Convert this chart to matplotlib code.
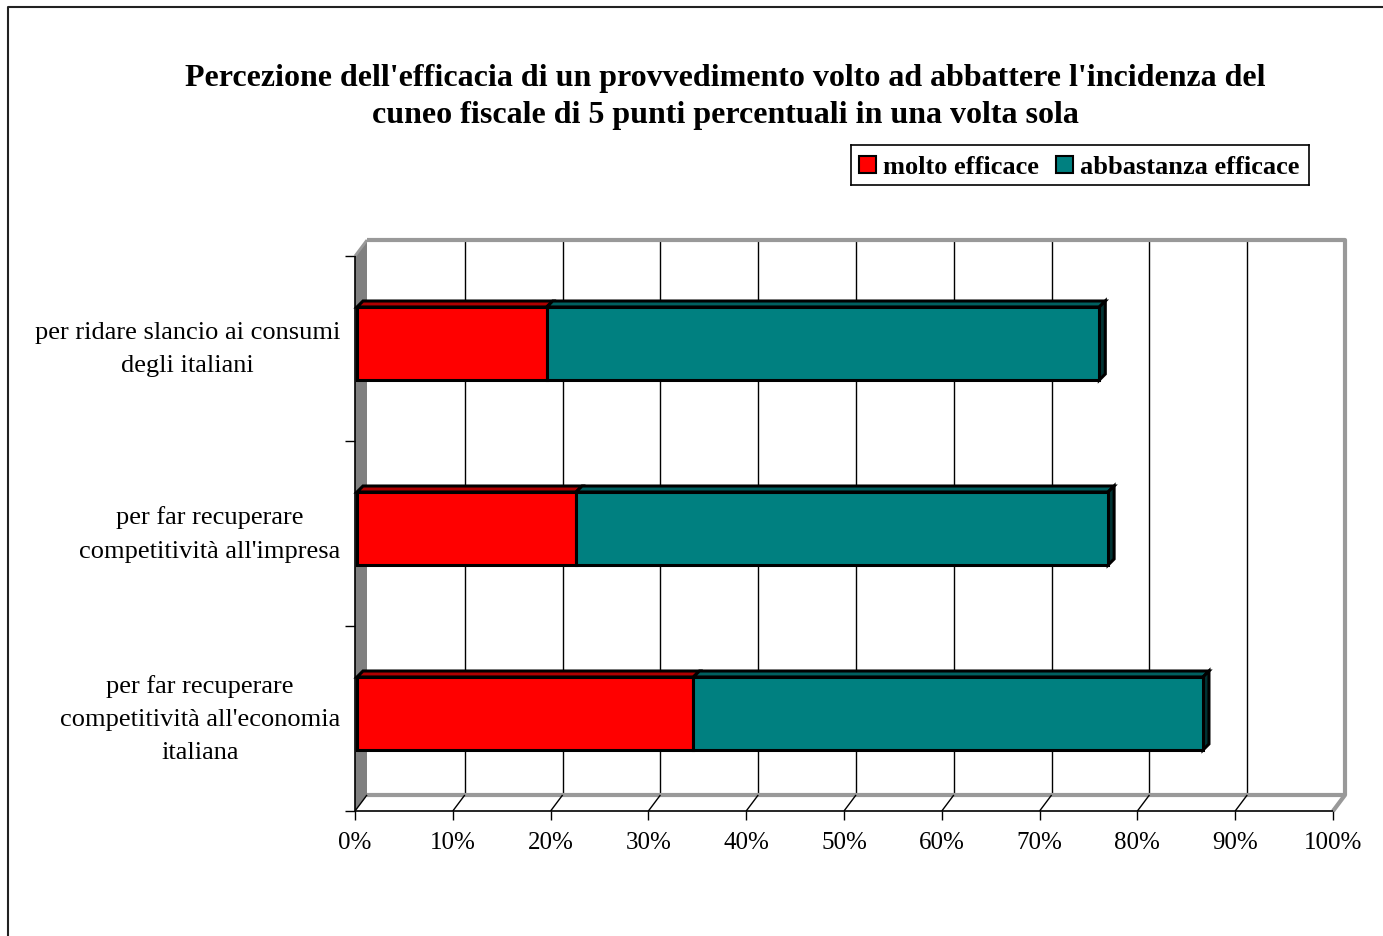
import matplotlib.pyplot as plt
from matplotlib.patches import Polygon

plt.rcParams['font.family'] = ['Liberation Serif', 'DejaVu Serif']

# dati (dall'alto verso il basso)
categorie = ["per ridare slancio ai consumi\ndegli italiani",
             "per far recuperare\ncompetitività all'impresa",
             "per far recuperare\ncompetitività all'economia\nitaliana"]
molto = [19.4, 22.4, 34.4]
abbastanza = [56.5, 54.4, 52.1]
serie = ['molto efficace', 'abbastanza efficace']
colori = ['#FF0000', '#008080']
colori_top = ['#B00000', '#006060']
colori_lato = ['#600000', '#003333']
xticks = list(range(0, 101, 10))

fig = plt.figure(figsize=(13.83, 9.37), dpi=100)
W, H = 1383, 937
# piano frontale: x 355..1333 px, y 812..257 px
ax = fig.add_axes([355 / W, (H - 812) / H, 978 / W, 555 / H])
ax.set_xlim(0, 100)
ax.set_ylim(0, 3)
ax.axis('off')

px = 100 / 978   # unità x per pixel
py = 3 / 555     # unità y per pixel
DX, DY = 12 * px, 16 * py   # profondità pareti


def poly(pts, fc, ec='none', lw=1.0, z=1):
    ax.add_patch(Polygon(pts, closed=True, facecolor=fc, edgecolor=ec,
                         linewidth=lw, zorder=z, clip_on=False, joinstyle='miter'))


def line(xs, ys, c='black', lw=1.0, z=2):
    ax.plot(xs, ys, color=c, linewidth=lw, zorder=z, clip_on=False,
            solid_capstyle='butt')


# parete laterale
poly([(0, 0), (0, 3), (DX, 3 + DY), (DX, DY)], '#808080', z=1)
# griglia sulla parete di fondo
for t in xticks[1:-1]:
    line([t + DX, t + DX], [DY, 3 + DY], 'black', 1.0, 1)
# bordi grigi della parete di fondo e del pavimento
line([DX, 100 + DX, 100 + DX, 100], [3 + DY, 3 + DY, DY, 0], '#999999', 3, 1.5)
line([DX, 100 + DX], [DY, DY], '#999999', 3, 1.5)
line([0, DX], [3, 3 + DY], '#999999', 2, 1.5)
# diagonali del pavimento
for t in xticks[:-1]:
    line([t, t + DX], [0, DY], 'black', 1.0, 1.6)
# assi frontali
line([0, 100], [0, 0], 'black', 1.2, 3)
line([0, 0], [0, 3], 'black', 1.2, 3)
for t in xticks:
    line([t, t], [0, -9 * py], 'black', 1.0, 3)
    ax.text(t, -31 * py, f'{t}%', ha='center', va='center', fontsize=18)
for k in range(4):
    line([0, -10 * px], [k, k], 'black', 1.0, 3)

# barre 3D
h = 73 * py
bx0, by0 = 2 * px, 5 * py
bdx, bdy = 6 * px, 6 * py
for i, cat in enumerate(categorie):
    yc = 2.5 - i
    y0 = yc - h / 2 + by0
    y1 = yc + h / 2 + by0
    starts = [0, molto[i]]
    vals = [molto[i], abbastanza[i]]
    for j in range(2):
        xa = starts[j] + bx0
        xb = starts[j] + vals[j] + bx0
        poly([(xa, y1), (xa + bdx, y1 + bdy), (xb + bdx, y1 + bdy), (xb, y1)],
             colori_top[j], 'black', 2.2, 5)
        if j == 1:
            poly([(xb, y0), (xb, y1), (xb + bdx, y1 + bdy), (xb + bdx, y0 + bdy)],
                 colori_lato[j], 'black', 2.2, 5)
        poly([(xa, y0), (xa, y1), (xb, y1), (xb, y0)], colori[j], 'black', 2.2, 6)
    ax.text(-15 * px, yc, cat, ha='right', va='center', multialignment='center',
            fontsize=19, linespacing=1.65)

# titolo
fig.text(725 / W, 1 - 97 / H,
         "Percezione dell'efficacia di un provvedimento volto ad abbattere l'incidenza del\n"
         "cuneo fiscale di 5 punti percentuali in una volta sola",
         ha='center', va='center', fontsize=23, fontweight='bold', linespacing=1.37)

# legenda
leg = fig.add_axes([851 / W, 1 - 186 / H, 458 / W, 40 / H])
leg.set_xlim(0, 458)
leg.set_ylim(0, 40)
leg.set_xticks([])
leg.set_yticks([])
for s in leg.spines.values():
    s.set_linewidth(1.2)
pos = [8, 205]
for j in range(2):
    leg.add_patch(plt.Rectangle((pos[j], 12), 17, 17, facecolor=colori[j],
                                edgecolor='black', linewidth=1.5))
    leg.text(pos[j] + 24, 19, serie[j], ha='left', va='center', fontsize=19,
             fontweight='bold')

# cornice esterna
fig.add_artist(plt.Line2D([8 / W, 8 / W, 1.01], [-0.01, 1 - 8 / H, 1 - 8 / H],
                          color='#222222', linewidth=1.5,
                          transform=fig.transFigure))

fig.savefig('out.png', dpi=100, facecolor='white')
